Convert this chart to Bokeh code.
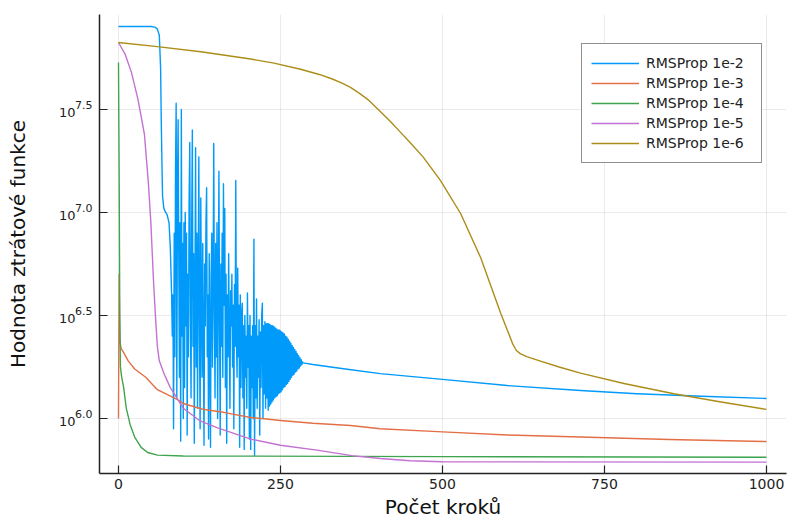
from bokeh.plotting import figure
from bokeh.models import Range1d, FixedTicker, CustomJSTickFormatter, LogAxis, LogScale
from bokeh.embed import file_html
from bokeh.resources import INLINE

# ---------------- data (log10 of loss) ----------------
series_names = ["RMSProp 1e-2", "RMSProp 1e-3", "RMSProp 1e-4", "RMSProp 1e-5", "RMSProp 1e-6"]
series_colors = ["#009AFA", "#E36F47", "#3EA44E", "#C371D2", "#AC8D18"]

x_ticks = [0, 250, 500, 750, 1000]
y_tick_exps = [6.0, 6.5, 7.0, 7.5]

# RMSProp 1e-2 : plateau, drop, chaotic phase (one value per step), smooth tail
blue_head_steps = [0, 50, 56, 60, 63, 65, 66, 67, 68, 70, 72, 75, 78, 80, 82, 83]
blue_head_exps = [7.903, 7.903, 7.900, 7.890, 7.860, 7.700, 7.450, 7.250, 7.080, 7.020, 7.005, 6.990, 6.950, 6.830, 6.600, 6.400]
blue_chaos_first_step = 84
blue_chaos_exps = [
    6.60, 5.95, 6.90, 6.30, 7.20, 7.53, 6.10, 7.10, 7.45, 6.80, 6.20, 6.95, 5.89, 7.50, 6.40, 6.85,  # 84-99
    6.00, 6.95, 6.15, 7.00, 6.45, 6.90, 5.92, 6.70, 6.30, 7.05, 7.34, 6.50, 6.10, 6.95, 7.40, 6.35,  # 100-115
    6.80, 5.88, 6.60, 7.315, 6.25, 6.90, 6.05, 6.70, 7.27, 6.40, 5.95, 7.07, 6.55, 6.20, 6.85, 6.35,  # 116-131
    5.87, 6.75, 6.45, 6.95, 7.12, 6.30, 6.60, 5.90, 6.80, 6.40, 5.86, 6.70, 6.90, 6.25, 6.65, 7.335,  # 132-147
    6.50, 6.10, 6.85, 6.30, 6.95, 6.00, 6.60, 7.20, 6.45, 5.92, 6.75, 6.35, 6.90, 6.20, 7.14, 6.55,  # 148-163
    7.02, 6.15, 6.70, 5.88, 6.60, 6.30, 6.80, 6.40, 6.05, 6.62, 6.45, 6.70, 6.25, 6.55, 5.95, 6.65,  # 164-179
    6.35, 7.155, 6.40, 6.20, 6.73, 6.30, 6.55, 5.86, 6.60, 6.15, 6.50, 6.56, 6.10, 6.45, 5.85, 6.50,  # 180-195
    6.20, 6.40, 6.05, 6.61, 6.25, 6.45, 5.90, 6.50, 5.85, 6.40, 6.15, 6.45, 6.00, 6.87, 5.82, 6.45,  # 196-211
    6.10, 6.58, 6.05, 6.40, 6.20, 6.48, 5.92, 6.42, 6.15, 6.50, 6.56, 6.00, 6.45, 6.12, 6.47, 6.05,  # 212-227
    6.46, 6.10, 6.46, 6.04, 6.46, 6.06, 6.455, 6.07, 6.45, 6.08, 6.45, 6.09, 6.445, 6.10, 6.44, 6.105,  # 228-243
    6.435, 6.11, 6.43, 6.12, 6.43, 6.125, 6.425, 6.13, 6.42, 6.14, 6.415, 6.15, 6.41, 6.155, 6.40, 6.165,  # 244-259
    6.395, 6.17, 6.385, 6.18, 6.375, 6.19, 6.365, 6.20, 6.355, 6.21, 6.345, 6.215, 6.335, 6.225, 6.325, 6.23,  # 260-275
    6.315, 6.24, 6.305, 6.245, 6.295, 6.255, 6.285, 6.262, 6.275, 6.27,  # 276-285
]
blue_tail_steps = [300, 350, 404, 500, 600, 713, 800, 900, 1000]
blue_tail_exps = [6.262, 6.240, 6.218, 6.190, 6.160, 6.136, 6.120, 6.108, 6.097]

# RMSProp 1e-3
orange_steps = [0, 1, 2, 4, 8, 15, 25, 42, 60, 88, 100, 130, 162, 204, 250, 300, 358, 404, 500, 600, 713, 850, 1000]
orange_exps = [6.00, 6.70, 6.38, 6.34, 6.32, 6.28, 6.24, 6.20, 6.14, 6.097, 6.073, 6.045, 6.030, 6.005, 5.990,
               5.977, 5.966, 5.950, 5.935, 5.920, 5.910, 5.898, 5.888]

# RMSProp 1e-4
green_steps = [0, 1, 2, 3, 5, 8, 12, 18, 25, 35, 45, 60, 100, 500, 1000]
green_exps = [7.728, 7.20, 6.50, 6.25, 6.20, 6.15, 6.05, 5.97, 5.91, 5.86, 5.835, 5.822, 5.818, 5.815, 5.812]

# RMSProp 1e-5
purple_steps = [0, 10, 20, 30, 40, 46, 50, 54, 57, 60, 63, 70, 80, 100, 125, 152, 204, 250, 309, 360, 404, 450, 500, 1000]
purple_exps = [7.825, 7.77, 7.68, 7.55, 7.38, 7.15, 6.95, 6.67, 6.50, 6.35, 6.28, 6.22, 6.15, 6.05, 5.99, 5.956,
               5.90, 5.87, 5.845, 5.82, 5.806, 5.795, 5.790, 5.788]

# RMSProp 1e-6
gold_steps = [0, 60, 127, 204, 240, 281, 310, 330, 345, 358, 372, 385, 404, 420, 435, 450, 470, 497, 528, 559,
              590, 600, 608, 614, 620, 630, 650, 680, 713, 780, 857, 930, 1000]
gold_exps = [7.825, 7.805, 7.78, 7.745, 7.725, 7.695, 7.67, 7.648, 7.628, 7.607, 7.578, 7.548, 7.49, 7.44, 7.39,
             7.34, 7.27, 7.155, 6.995, 6.78, 6.51, 6.43, 6.365, 6.33, 6.315, 6.30, 6.28, 6.25, 6.22, 6.17, 6.12,
             6.08, 6.044]

# ---------------- build series ----------------
blue_steps = (blue_head_steps
              + list(range(blue_chaos_first_step, blue_chaos_first_step + len(blue_chaos_exps)))
              + blue_tail_steps)
blue_exps = blue_head_exps + blue_chaos_exps + blue_tail_exps

all_steps = [blue_steps, orange_steps, green_steps, purple_steps, gold_steps]
all_exps = [blue_exps, orange_exps, green_exps, purple_exps, gold_exps]

x_lo, x_hi = -29.3, 1030.9
e_lo, e_hi = 5.733, 7.961
px_per_decade = 459.0 / (e_hi - e_lo)
up = 4.0 / px_per_decade     # exponent labels sit ~4 px above the tick
down = 3.0 / px_per_decade   # "10" sits ~3 px below the tick

p = figure(width=787, height=521, output_backend="svg", toolbar_location=None,
           y_axis_type="log", y_axis_location=None,
           x_range=Range1d(x_lo, x_hi), y_range=Range1d(10 ** e_lo, 10 ** e_hi),
           min_border_left=99, min_border_right=1, min_border_top=14, min_border_bottom=48)
p.outline_line_color = None
p.background_fill_color = "white"
p.border_fill_color = "white"
p.extra_y_ranges = {"exp": Range1d(10 ** (e_lo - up), 10 ** (e_hi - up)),
                    "mant": Range1d(10 ** (e_lo + down), 10 ** (e_hi + down))}
p.extra_y_scales = {"exp": LogScale(), "mant": LogScale()}

for name, col, xs, es in zip(series_names, series_colors, all_steps, all_exps):
    p.line(xs, [10 ** e for e in es], line_color=col, line_width=1.4, line_join="round",
           legend_label=name)

y_tick_vals = [10 ** e for e in y_tick_exps]

# inner y axis: line + inward ticks only
ax_c = LogAxis(ticker=FixedTicker(ticks=y_tick_vals), formatter=CustomJSTickFormatter(code="return '';"))
ax_c.major_label_standoff = 0
ax_c.major_label_text_font_size = "1px"
# exponent labels
ax_a = LogAxis(y_range_name="exp", ticker=FixedTicker(ticks=y_tick_vals),
               formatter=CustomJSTickFormatter(code="return Math.log10(tick).toFixed(1);"))
ax_a.axis_line_color = None
ax_a.major_tick_line_color = None
ax_a.major_label_standoff = 7
ax_a.major_label_text_font_size = "11px"
# mantissa "10" labels + axis title
ax_b = LogAxis(y_range_name="mant", ticker=FixedTicker(ticks=y_tick_vals),
               formatter=CustomJSTickFormatter(code="return '10';"))
ax_b.axis_line_color = None
ax_b.major_tick_line_color = None
ax_b.major_label_standoff = -3
ax_b.major_label_text_font_size = "13px"
ax_b.axis_label = "Hodnota ztrátové funkce"
ax_b.axis_label_standoff = 26

p.add_layout(ax_c, "left")
p.add_layout(ax_a, "left")
p.add_layout(ax_b, "left")

p.xaxis.ticker = FixedTicker(ticks=x_ticks)
p.xaxis.axis_label = "Počet kroků"
p.xaxis.major_label_text_font_size = "14px"
p.xaxis.major_label_standoff = 5
p.xaxis.axis_label_standoff = 3

for ax in (p.xaxis[0], ax_a, ax_b, ax_c):
    ax.minor_tick_line_color = None
    ax.major_label_text_font = "DejaVu Sans"
    ax.major_label_text_color = "#222222"
    ax.axis_label_text_font = "DejaVu Sans"
    ax.axis_label_text_font_style = "normal"
    ax.axis_label_text_color = "#111111"
    ax.axis_label_text_font_size = "20px"
for ax in (p.xaxis[0], ax_c):
    ax.axis_line_color = "#222222"
    ax.axis_line_width = 1.5
    ax.major_tick_line_color = "#222222"
    ax.major_tick_line_width = 1.2
    ax.major_tick_in = 8
    ax.major_tick_out = 0
for ax in (ax_a, ax_b):
    ax.major_tick_in = 0
    ax.major_tick_out = 0

# grids
p.ygrid.ticker = FixedTicker(ticks=y_tick_vals)
for g in (p.xgrid, p.ygrid):
    g.grid_line_color = "#000000"
    g.grid_line_alpha = 0.08
    g.grid_line_width = 1

# legend
lg = p.legend[0]
lg.location = (482, 310)
lg.border_line_color = "#222222"
lg.border_line_width = 1.2
lg.background_fill_alpha = 1
lg.label_text_font = "DejaVu Sans"
lg.label_text_font_size = "14px"
lg.label_text_color = "#222222"
lg.glyph_width = 48
lg.glyph_height = 20
lg.label_height = 20
lg.label_standoff = 7
lg.spacing = 0
lg.padding = 9
lg.margin = 0
lg.label_width = 106

open("out.html", "w").write(file_html(p, INLINE))
